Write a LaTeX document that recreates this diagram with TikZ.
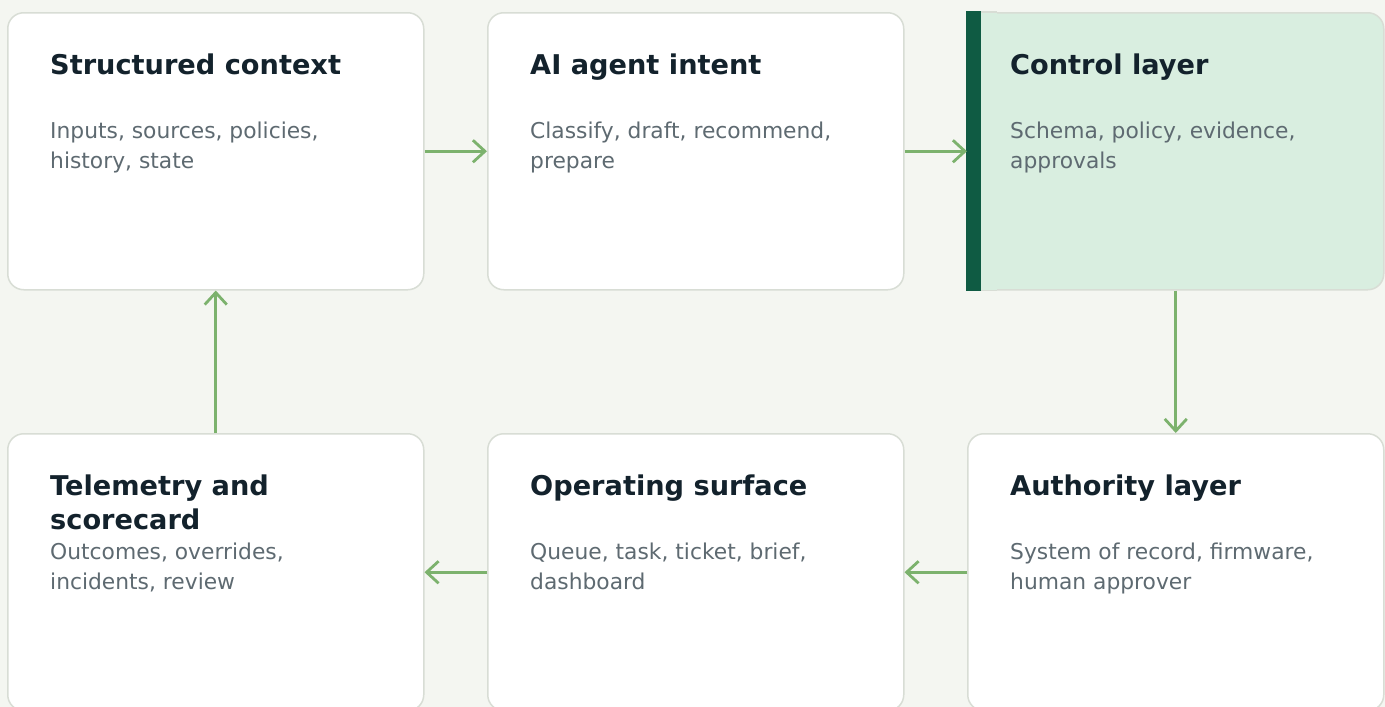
\documentclass[tikz,border=0pt]{standalone}
\usepackage{fontspec}
\setmainfont{DejaVu Sans}
\usetikzlibrary{arrows.meta}
\definecolor{bgc}{HTML}{F4F6F1}
\definecolor{bordc}{HTML}{D8DDD5}
\definecolor{titc}{HTML}{13222C}
\definecolor{bodyc}{HTML}{5E6A71}
\definecolor{arrc}{HTML}{7CB26D}
\definecolor{ctlfill}{HTML}{D9EEE0}
\definecolor{barc}{HTML}{0F5B43}
\newcommand{\cardlines}[2]{\vtop{\baselineskip=30pt\hbox{#1}\hbox{#2}}}
\newcommand{\titlines}[2]{\vtop{\baselineskip=34pt\hbox{#1}\hbox{#2}}}
\tikzset{
  card/.style={draw=bordc, line width=1.5pt, fill=white, rounded corners=16pt,
    minimum width=416pt, minimum height=277pt, inner sep=0pt, anchor=north west},
  cardtitle/.style={anchor=base west, inner sep=0pt, text=titc,
    font=\fontsize{27.2}{34}\selectfont\bfseries},
  cardbody/.style={anchor=base west, inner sep=0pt, text=bodyc,
    font=\fontsize{21.8}{30}\selectfont},
  flow/.style={draw=arrc, line width=2.8pt,
    -{Straight Barb[length=12pt,width=22pt,line width=2.8pt]}}
}
\begin{document}
\begin{tikzpicture}[x=1pt,y=-1pt]
\useasboundingbox (0,0) rectangle (1385,707);
\clip (0,0) rectangle (1385,707);
\fill[bgc] (0,0) rectangle (1385,707);
% cards
\node[card] (sc) at (7,12) {};
\node[card] (ai) at (487,12) {};
\node[card, fill=ctlfill] (cl) at (967,12) {};
\node[card] (tm) at (7,433) {};
\node[card] (os) at (487,433) {};
\node[card] (al) at (967,433) {};
% control layer: square left side with dark bar
\fill[ctlfill] (cl.north west) rectangle ([xshift=30pt]cl.south west);
\draw[bordc, line width=1.5pt] ([xshift=14pt]cl.north west) -- ([xshift=30pt]cl.north west);
\draw[bordc, line width=1.5pt] ([xshift=14pt]cl.south west) -- ([xshift=30pt]cl.south west);
\fill[barc] ([xshift=-0.75pt,yshift=0.75pt]cl.north west) rectangle ([xshift=14pt,yshift=-0.75pt]cl.south west);
% titles
\node[cardtitle] (sct) at (50,74) {Structured context};
\node[cardtitle] (ait) at (530,74) {AI agent intent};
\node[cardtitle] (clt) at (1010,74) {Control layer};
\node[cardtitle] (tmt) at (50,495) {\titlines{Telemetry and}{scorecard}};
\node[cardtitle] (ost) at (530,495) {Operating surface};
\node[cardtitle] (alt) at (1010,495) {Authority layer};
% bodies
\node[cardbody] (scb) at (50,138) {\cardlines{Inputs, sources, policies,}{history, state}};
\node[cardbody] (aib) at (530,138) {\cardlines{Classify, draft, recommend,}{prepare}};
\node[cardbody] (clb) at (1010,138) {\cardlines{Schema, policy, evidence,}{approvals}};
\node[cardbody] (tmb) at (50,559) {\cardlines{Outcomes, overrides,}{incidents, review}};
\node[cardbody] (osb) at (530,559) {\cardlines{Queue, task, ticket, brief,}{dashboard}};
\node[cardbody] (alb) at (1010,559) {\cardlines{System of record, firmware,}{human approver}};
% connectors
\draw[flow] (sc.east) -- (ai.west);
\draw[flow] (ai.east) -- (cl.west);
\draw[flow] (cl.south) -- (al.north);
\draw[flow] (al.west) -- (os.east);
\draw[flow] (os.west) -- (tm.east);
\draw[flow] (tm.north) -- (sc.south);
\end{tikzpicture}
\end{document}
